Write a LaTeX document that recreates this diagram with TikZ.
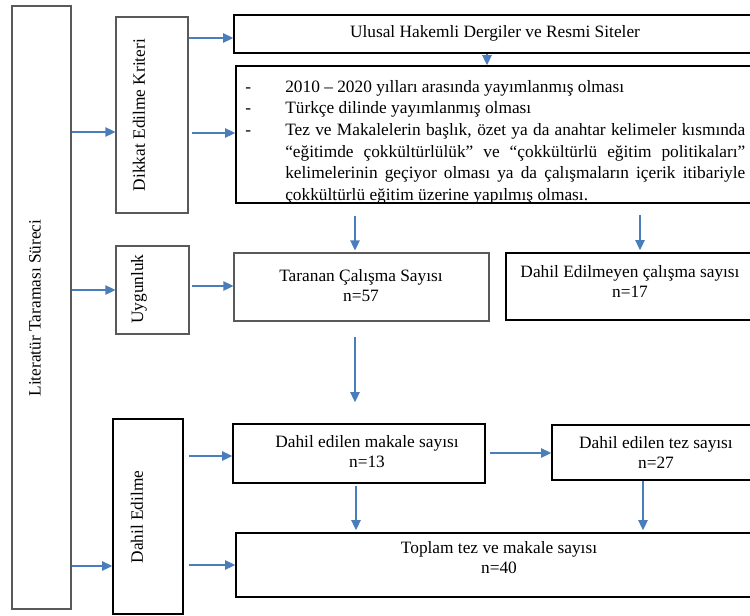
\documentclass[tikz,border=0pt]{standalone}
\usepackage{fontspec}
\setmainfont{Liberation Serif}
\usetikzlibrary{arrows.meta,calc,positioning,fit}

\definecolor{flowblue}{RGB}{74,126,187}
\newcommand{\critem}[1]{\par\noindent\hangindent=30pt\hangafter=1\makebox[30pt][l]{-}#1\par}

\tikzset{
  grayframe/.style={draw=black!65, line width=0.8pt, rectangle, inner sep=0pt},
  blackframe/.style={draw=black, line width=1.2pt, rectangle, inner sep=0pt},
  flow/.style={draw=flowblue, line width=1pt, -{Triangle[length=7.5pt,width=7pt]}},
  vlabel/.style={rotate=90, inner sep=0pt, font=\fontsize{13}{15}\selectfont},
  hlabel/.style={align=center, inner sep=0pt, font=\fontsize{13}{15}\selectfont},
}

\begin{document}
\begin{tikzpicture}[x=0.75pt,y=-0.75pt]
  \useasboundingbox (0,0) rectangle (750,615);

  % left column
  \node[grayframe, fit={(12,6) (71,609)}] (lit) {};
  \node[vlabel] (lit-t) at (35,308) {Literatür Taraması Süreci};

  \node[grayframe, fit={(116,17) (188,213)}] (dikkat) {};
  \node[vlabel] (dikkat-t) at (139,115) {Dikkat Edilme Kriteri};

  \node[grayframe, fit={(116,246) (189,334)}] (uygun) {};
  \node[vlabel] (uygun-t) at (139,289) {Uygunluk};

  \node[blackframe, fit={(113,419) (183,614)}] (dahil) {};
  \node[vlabel] (dahil-t) at (137,517) {Dahil Edilme};

  % criteria
  \node[blackframe, fit={(234,15) (756,53)}] (sites) {};
  \node[hlabel] (sites-t) at (495,33) {Ulusal Hakemli Dergiler ve Resmi Siteler};

  \node[blackframe, fit={(236,66) (756,203)}] (crit) {};
  \node[anchor=north west, inner sep=0pt, text width=375pt, align=justify,
        font=\fontsize{13}{16.3}\selectfont] (crit-t) at (245,70) {%
    \hyphenpenalty=10000
    \critem{2010 – 2020 yılları arasında yayımlanmış olması}
    \critem{Türkçe dilinde yayımlanmış olması}
    \critem{Tez ve Makalelerin başlık, özet ya da anahtar kelimeler kısmında\linebreak
      “eğitimde çokkültürlülük” ve “çokkültürlü eğitim politikaları”\linebreak
      kelimelerinin geçiyor olması ya da çalışmaların içerik itibariyle\linebreak
      çokkültürlü eğitim üzerine yapılmış olması.}};

  % counts
  \node[grayframe, fit={(234,253) (489,321)}] (taranan) {};
  \node[hlabel] (taranan-t) at (361,286) {Taranan Çalışma Sayısı\\n=57};

  \node[blackframe, fit={(506,253) (756,320)}] (disari) {};
  \node[hlabel] (disari-t) at (630,281) {Dahil Edilmeyen çalışma sayısı\\n=17};

  \node[blackframe, fit={(233,424) (485,483)}] (makale) {};
  \node[hlabel] (makale-t) at (367,452) {Dahil edilen makale sayısı\\n=13};

  \node[blackframe, fit={(552,425) (756,480)}] (tez) {};
  \node[hlabel] (tez-t) at (656,452) {Dahil edilen tez sayısı\\n=27};

  \node[blackframe, fit={(236,533) (756,597)}] (toplam) {};
  \node[hlabel] (toplam-t) at (499,558) {Toplam tez ve makale sayısı\\n=40};

  % arrows
  \draw[flow] (lit.east |- 0,132) -- (dikkat.west |- 0,132);
  \draw[flow] (dikkat.east |- 0,38) -- (sites.west |- 0,38);
  \draw[flow] ($(dikkat.east |- 0,133)+(3,0)$) -- (crit.west |- 0,133);
  \draw[flow] (sites.south -| 487,0) -- (crit.north -| 487,0);
  \draw[flow] ($(crit.south -| 355,0)+(0,12)$) -- ($(taranan.north -| 355,0)+(0,-2)$);
  \draw[flow] ($(crit.south -| 640,0)+(0,11)$) -- ($(disari.north -| 640,0)+(0,-2)$);

  \draw[flow] (lit.east |- 0,290) -- (uygun.west |- 0,290);
  \draw[flow] ($(uygun.east |- 0,286)+(2,0)$) -- (taranan.west |- 0,286);
  \draw[flow] ($(taranan.south -| 355,0)+(0,15)$) -- ($(makale.north -| 355,0)+(0,-21)$);

  \draw[flow] (lit.east |- 0,566) -- (dahil.west |- 0,566);
  \draw[flow] ($(dahil.east |- 0,456)+(5,0)$) -- (makale.west |- 0,456);
  \draw[flow] ($(dahil.east |- 0,565)+(5,0)$) -- (toplam.west |- 0,565);
  \draw[flow] ($(makale.east |- 0,453)+(4,0)$) -- (tez.west |- 0,453);
  \draw[flow] ($(makale.south -| 356,0)+(0,2)$) -- ($(toplam.north -| 356,0)+(0,-2)$);
  \draw[flow] (tez.south -| 643,0) -- ($(toplam.north -| 643,0)+(0,-2)$);
\end{tikzpicture}
\end{document}
